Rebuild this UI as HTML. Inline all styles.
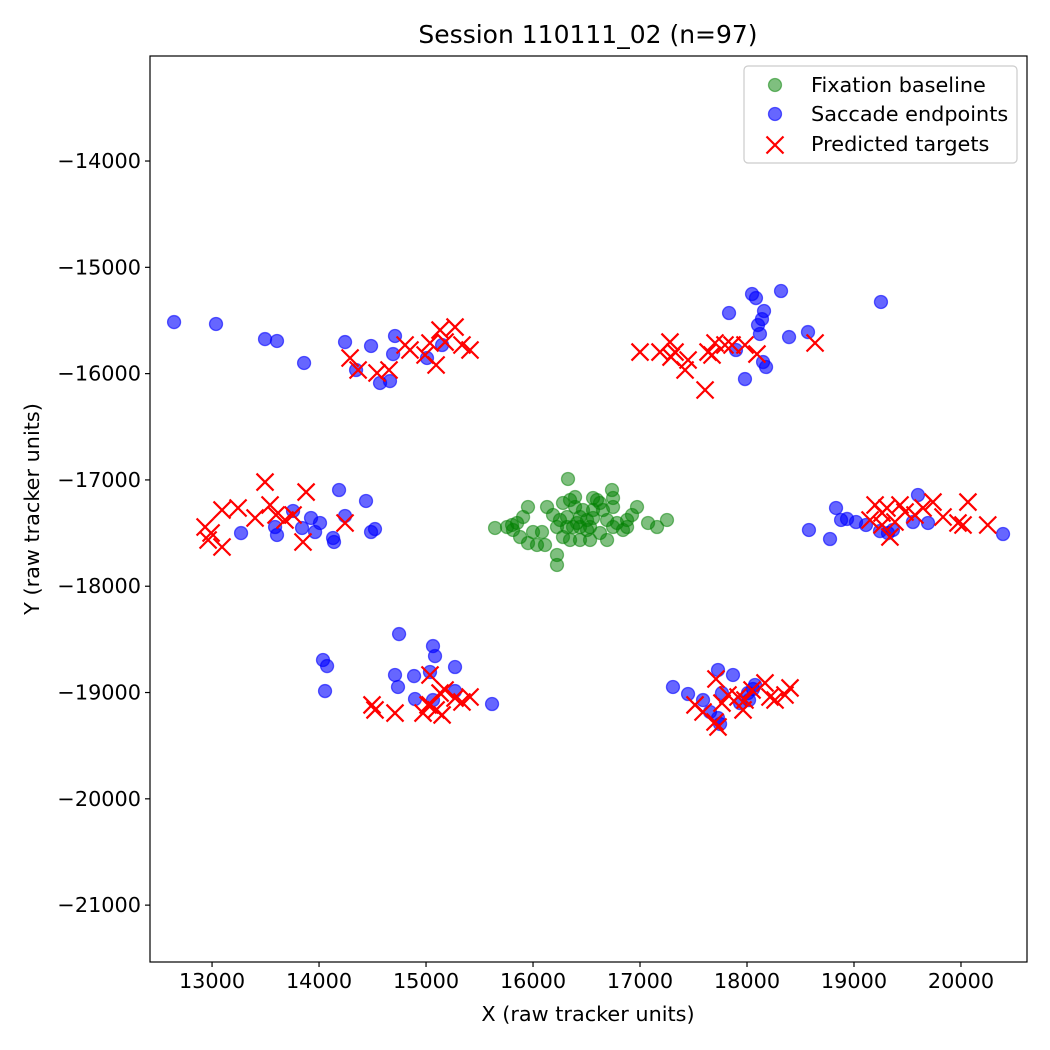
<!DOCTYPE html>
<html><head><meta charset="utf-8"><style>
body{margin:0;background:#fff}
svg{display:block;font-family:"DejaVu Sans","Liberation Sans",sans-serif}
</style></head><body>
<svg id="chart" width="1050" height="1050" viewBox="0 0 1050 1050"></svg>
<script>
const fixX=[16327,15645,15953,16131,15907,15804,15813,15879,16000,16084,15953,16037,16112,16224,16224,16280,16393,16393,16252,16318,16439,16505,16561,16561,16598,16738,16748,16748,16972,16925,16879,16785,16841,17075,17159,17252,16224,16280,16346,16439,16533,16692,16626,16439,16533,16374,16318,16692,16187,16467,16561,16654,16748,16879,15757,15851,16626,16346,16411,16505];
const fixY=[-16991,-17452,-17255,-17255,-17349,-17424,-17471,-17537,-17490,-17490,-17594,-17612,-17612,-17706,-17800,-17217,-17161,-17255,-17377,-17349,-17349,-17377,-17358,-17170,-17189,-17095,-17170,-17255,-17255,-17330,-17377,-17405,-17471,-17405,-17443,-17377,-17443,-17537,-17565,-17565,-17565,-17565,-17499,-17443,-17443,-17443,-17443,-17377,-17330,-17283,-17283,-17283,-17443,-17443,-17443,-17405,-17217,-17189,-17405,-17471];
const sacX=[12645,13037,13495,13607,13860,14243,14346,14486,14570,14663,14692,14710,15009,15150,
17832,18047,18084,18103,18140,18121,18159,18150,18178,17981,18318,18393,18570,19252,17897,
13271,13607,13589,13757,13841,13925,13963,14009,14131,14140,14187,14243,14439,14486,14523,
18579,18776,18832,18879,18935,19019,19112,19243,19318,19364,19551,19598,19692,20393,
14037,14075,14056,14748,14710,14738,14888,14897,15037,15065,15084,15065,15271,15271,15617,
17308,17449,17589,17729,17869,17766,17654,17748,17729,17935,18009,18056,18075,18019];
const sacY=[-15515,-15533,-15675,-15693,-15900,-15703,-15966,-15740,-16088,-16070,-15816,-15646,-15853,-15731,
-15430,-15251,-15289,-15543,-15487,-15627,-15411,-15891,-15938,-16051,-15223,-15656,-15609,-15326,-15778,
-17500,-17518,-17443,-17292,-17452,-17358,-17490,-17405,-17546,-17584,-17095,-17339,-17198,-17490,-17462,
-17471,-17556,-17264,-17377,-17367,-17396,-17424,-17481,-17500,-17471,-17396,-17142,-17405,-17509,
-18694,-18751,-18986,-18450,-18835,-18948,-18845,-19061,-18807,-18563,-18657,-19071,-18986,-18760,-19108,
-18948,-19014,-19071,-18788,-18835,-19005,-19183,-19296,-19240,-19099,-19005,-18967,-18929,-19071];
const predX=[14290,14365,14542,14654,14804,14850,14991,15037,15131,15178,15271,15336,15411,15094,
17000,17187,17280,17327,17449,17608,17636,17701,17673,17794,17860,17981,18093,18636,17290,17421,
12935,12963,13093,13093,13243,13402,13495,13542,13598,13682,13757,13879,13850,14243,12991,
19150,19197,19262,19308,19336,19383,19430,19477,19570,19645,19738,19832,19972,20019,20065,20250,19262,
14495,14523,14710,14972,15019,15037,15094,15131,15178,15271,15336,15411,15037,15150,
17514,17589,17701,17729,17766,17822,17916,17963,17981,18047,18168,18215,18355,18402,18262,17710];
const predY=[-15853,-15966,-15994,-15966,-15731,-15778,-15825,-15712,-15590,-15703,-15562,-15731,-15778,-15919,
-15797,-15797,-15703,-15797,-15872,-16154,-15797,-15712,-15825,-15731,-15731,-15731,-15816,-15712,-15844,-15966,
-17443,-17565,-17631,-17283,-17264,-17358,-17020,-17236,-17330,-17377,-17330,-17114,-17584,-17405,-17499,
-17377,-17236,-17311,-17264,-17537,-17396,-17236,-17302,-17330,-17264,-17208,-17349,-17405,-17424,-17208,-17424,-17424,
-19117,-19164,-19193,-19193,-19117,-18835,-19164,-19005,-18976,-19052,-19089,-19042,-19117,-19211,
-19117,-19183,-19277,-19324,-19099,-19023,-19042,-19164,-19070,-18976,-18910,-19042,-19023,-18957,-19070,-18873];
const xTicks=[13000,14000,15000,16000,17000,18000,19000,20000];
const yTicks=[-14000,-15000,-16000,-17000,-18000,-19000,-20000,-21000];
const L=150,R=1027,T=56,B=962,XMIN=12420,XMAX=20617,YMIN=-21535,YMAX=-13012;
const sx=v=>L+(v-XMIN)/(XMAX-XMIN)*(R-L);
const sy=v=>B-(v-YMIN)/(YMAX-YMIN)*(B-T);
const svg=document.getElementById('chart');const NS='http://www.w3.org/2000/svg';
function mk(t,a,p){const e=document.createElementNS(NS,t);for(const k in a)e.setAttribute(k,a[k]);(p||svg).appendChild(e);return e;}
const FS=20.8;
const title=mk('text',{x:588,y:43,'text-anchor':'middle','font-size':25});title.textContent='Session 110111_02 (n=97)';


const gx=mk('g',{});


xTicks.forEach(v=>{const x=sx(v);mk('line',{x1:x,x2:x,y1:B,y2:B+5,stroke:'#000','stroke-width':1.2},gx);
const t=mk('text',{x:x,y:B+26,'text-anchor':'middle','font-size':FS},gx);t.textContent=v;

});
const xl=mk('text',{x:588,y:1021,'text-anchor':'middle','font-size':FS});xl.textContent='X (raw tracker units)';


const gy=mk('g',{});


yTicks.forEach(v=>{const y=sy(v);mk('line',{x1:L-5,x2:L,y1:y,y2:y,stroke:'#000','stroke-width':1.2},gy);
const t=mk('text',{x:L-9,y:y+7,'text-anchor':'end','font-size':FS},gy);t.textContent='\u2212'+Math.abs(v);

});
const yl=mk('text',{x:39,y:509,'text-anchor':'middle','font-size':FS,transform:'rotate(-90 39 509)'});yl.textContent='Y (raw tracker units)';


const g1=mk('g',{});


fixX.forEach((v,i)=>{const c=mk('circle',{cx:sx(v),cy:sy(fixY[i]),r:6.5,fill:'rgba(0,128,0,0.5)',stroke:'rgba(0,128,0,0.5)','stroke-width':1.3},g1);

});
const g2=mk('g',{});


sacX.forEach((v,i)=>{const c=mk('circle',{cx:sx(v),cy:sy(sacY[i]),r:6.5,fill:'rgba(0,0,255,0.6)',stroke:'rgba(0,0,255,0.6)','stroke-width':1.3},g2);

});
const g3=mk('g',{});


predX.forEach((v,i)=>{const x=sx(v),y=sy(predY[i]),s=8.5;
const p=mk('path',{d:`M${x-s} ${y-s}L${x+s} ${y+s}M${x-s} ${y+s}L${x+s} ${y-s}`,stroke:'#f00','stroke-width':2.2,fill:'none'},g3);

});
const frame=mk('rect',{x:L,y:T,width:R-L,height:B-T,fill:'none',stroke:'#000','stroke-width':1.2});


const lg=mk('g',{});


mk('rect',{x:744,y:66,width:273,height:97,rx:4,fill:'rgba(255,255,255,0.8)',stroke:'#ccc','stroke-width':1.2},lg);
mk('circle',{cx:775,cy:85,r:6.5,fill:'rgba(0,128,0,0.5)',stroke:'rgba(0,128,0,0.5)','stroke-width':1.3},lg);
mk('circle',{cx:775,cy:114,r:6.5,fill:'rgba(0,0,255,0.6)',stroke:'rgba(0,0,255,0.6)','stroke-width':1.3},lg);
mk('path',{d:'M766.5 136.5L783.5 153.5M766.5 153.5L783.5 136.5',stroke:'#f00','stroke-width':2.2},lg);
[['Fixation baseline',92],['Saccade endpoints',121],['Predicted targets',151]].forEach(([s,y])=>{const t=mk('text',{x:811,y:y,'font-size':FS},lg);t.textContent=s;

});
</script>
</body></html>
